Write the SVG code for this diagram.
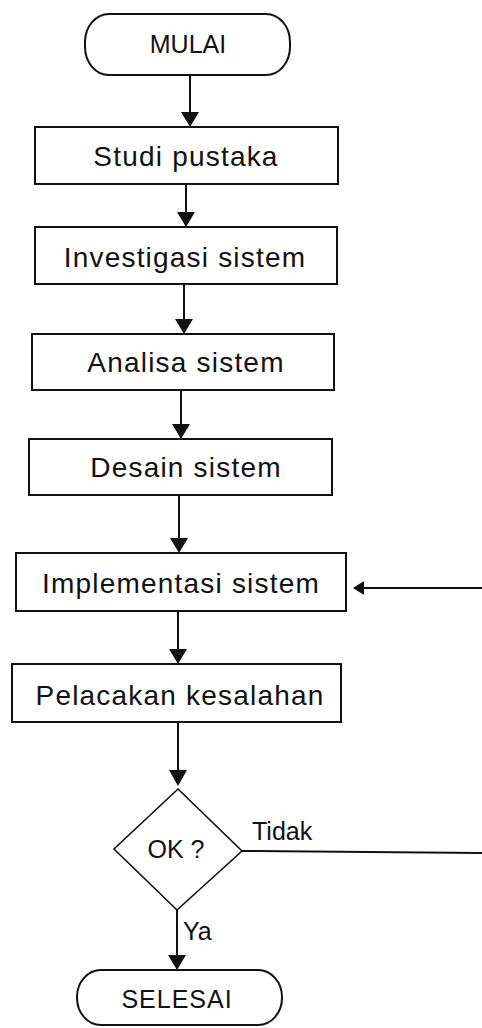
<svg xmlns="http://www.w3.org/2000/svg" width="482" height="1028" viewBox="0 0 482 1028">
  <defs>
    <style>
      .bg { fill: #ffffff; }
      .box { fill: #ffffff; stroke: #111; stroke-width: 2; }
      .term { fill: #ffffff; stroke: #111; stroke-width: 2; }
      .dec { fill: #ffffff; stroke: #111; stroke-width: 1.6; }
      .edge { fill: none; stroke: #111; stroke-width: 2; }
      .head { fill: #111; stroke: none; }
      .lbl { font-family: "Liberation Sans", Arial, sans-serif; font-size: 28px; fill: #111; text-anchor: middle; letter-spacing: 1.2px; }
      .plain { font-family: "Liberation Sans", Arial, sans-serif; font-size: 25px; fill: #111; }
    </style>
  </defs>

  <rect class="bg" x="0" y="0" width="482" height="1028"/>

  <!-- connectors -->
  <g id="connectors">
    <line class="edge" x1="190" y1="75" x2="190" y2="116"/>
    <polygon class="head" points="181,112 199,112 190,127"/>

    <line class="edge" x1="186" y1="184" x2="186" y2="216"/>
    <polygon class="head" points="177,212 195,212 186,227"/>

    <line class="edge" x1="184" y1="284" x2="184" y2="323"/>
    <polygon class="head" points="175,319 193,319 184,334"/>

    <line class="edge" x1="181" y1="390" x2="181" y2="428"/>
    <polygon class="head" points="172,424 190,424 181,439"/>

    <line class="edge" x1="179" y1="495" x2="179" y2="542"/>
    <polygon class="head" points="170,538 188,538 179,553"/>

    <line class="edge" x1="178" y1="611" x2="178" y2="653"/>
    <polygon class="head" points="169,649 187,649 178,664"/>

    <line class="edge" x1="178" y1="722" x2="178" y2="775"/>
    <polygon class="head" points="169,770 187,770 178,786"/>

    <line class="edge" x1="177" y1="910" x2="177" y2="959"/>
    <polygon class="head" points="168,955 186,955 177,970"/>

    <!-- Tidak branch leaving to the right -->
    <line class="edge" x1="242" y1="851" x2="482" y2="853"/>

    <!-- loop-back arrow into Implementasi sistem -->
    <line class="edge" x1="482" y1="588" x2="360" y2="588"/>
    <polygon class="head" points="364,581 364,595 353,588"/>
  </g>

  <g id="mulai">
    <rect class="term" x="85" y="14" width="205" height="61" rx="24" ry="28"/>
    <text class="plain" x="188" y="53" text-anchor="middle" font-size="27">MULAI</text>
  </g>

  <g id="studi-pustaka">
    <rect class="box" x="35" y="127" width="303" height="57"/>
    <text class="lbl" x="186" y="166">Studi pustaka</text>
  </g>

  <g id="investigasi-sistem">
    <rect class="box" x="35" y="227" width="302" height="57"/>
    <text class="lbl" x="185" y="267">Investigasi sistem</text>
  </g>

  <g id="analisa-sistem">
    <rect class="box" x="32" y="334" width="302" height="56"/>
    <text class="lbl" x="186" y="372">Analisa sistem</text>
  </g>

  <g id="desain-sistem">
    <rect class="box" x="29" y="439" width="303" height="56"/>
    <text class="lbl" x="186" y="477">Desain sistem</text>
  </g>

  <g id="implementasi-sistem">
    <rect class="box" x="16" y="553" width="330" height="58"/>
    <text class="lbl" x="181" y="593">Implementasi sistem</text>
  </g>

  <g id="pelacakan-kesalahan">
    <rect class="box" x="12" y="664" width="329" height="58"/>
    <text class="lbl" x="180" y="705">Pelacakan kesalahan</text>
  </g>

  <g id="ok">
    <polygon class="dec" points="178,789 242,851 177,910 114,849"/>
    <text class="plain" x="176" y="858" text-anchor="middle" font-size="27">OK ?</text>
  </g>

  <g id="branch-labels">
    <text class="plain" x="252" y="840" font-size="25">Tidak</text>
    <text class="plain" x="183" y="940" font-size="23">Ya</text>
  </g>

  <g id="selesai">
    <rect class="term" x="77" y="970" width="205" height="55" rx="24" ry="27"/>
    <text class="plain" x="177" y="1008" text-anchor="middle" font-size="25" letter-spacing="1">SELESAI</text>
  </g>
</svg>
